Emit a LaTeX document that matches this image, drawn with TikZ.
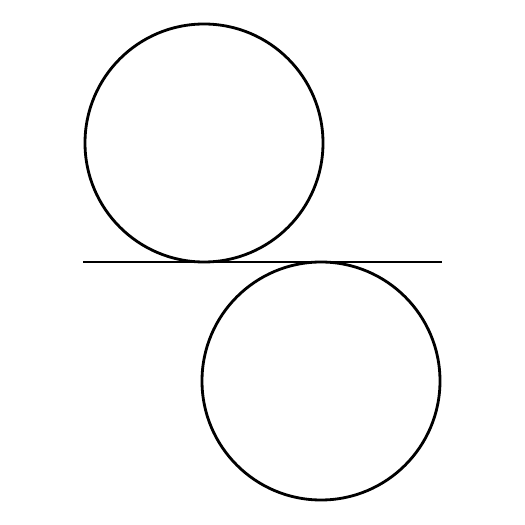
\documentclass[tikz,border=0pt]{standalone}
\begin{document}
\begin{tikzpicture}[line width=1.6pt]
\useasboundingbox (0,0) rectangle (10.5,10.5);
\coordinate (o1) at (4.08,7.64);
\coordinate (o2) at (6.42,2.88);
\coordinate (l) at (1.66,5.26);
\coordinate (r) at (8.84,5.26);
\draw (o1) circle (2.38);
\draw (o2) circle (2.38);
\draw (l) -- (r);
\end{tikzpicture}
\end{document}
